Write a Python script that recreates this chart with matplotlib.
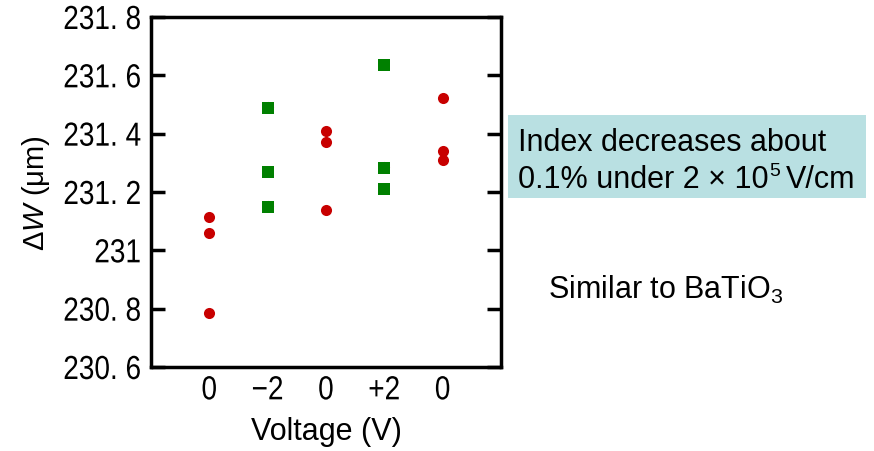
import matplotlib
matplotlib.use("Agg")
import matplotlib.pyplot as plt
from matplotlib.patheffects import AbstractPathEffect
from matplotlib.transforms import Affine2D

plt.rcParams['mathtext.fontset'] = 'custom'
plt.rcParams['mathtext.rm'] = 'Liberation Sans'
plt.rcParams['mathtext.it'] = 'Liberation Sans:italic'

categories = ["0", "\u22122", "0", "+2", "0"]
yticks = [230.6, 230.8, 231.0, 231.2, 231.4, 231.6, 231.8]
ytick_labels = ["230. 6", "230. 8", "231", "231. 2", "231. 4", "231. 6", "231. 8"]

red_x = [1, 1, 1, 2, 2, 3, 3, 3, 4, 5, 5, 5]
red_y = [231.114, 231.06, 230.784, 231.492, 231.152, 231.408, 231.37, 231.138, 231.285, 231.523, 231.341, 231.309]
green_x = [2, 2, 2, 4, 4, 4]
green_y = [231.488, 231.268, 231.148, 231.634, 231.281, 231.209]


class HScale(AbstractPathEffect):
    """Horizontally condense text about its right edge or centre."""
    def __init__(self, sx, anchor='right'):
        super().__init__()
        self.sx = sx
        self.anchor = anchor

    def draw_path(self, renderer, gc, tpath, affine, rgbFace=None):
        v = affine.transform(tpath.vertices)
        if len(v):
            x0 = v[:, 0].max() if self.anchor == 'right' else 0.5 * (v[:, 0].min() + v[:, 0].max())
        else:
            x0 = 0
        new = affine + Affine2D().translate(-x0, 0).scale(self.sx, 1).translate(x0, 0)
        renderer.draw_path(gc, tpath, new, rgbFace)


fig = plt.figure(figsize=(8.74, 4.52), dpi=100)
ax = fig.add_axes([151/874, 1-368/452, 350/874, 350/452])

ax.scatter(red_x, red_y, s=8**2, marker='o', color='#c80000', linewidths=0, zorder=3)
ax.scatter(green_x, green_y, s=8**2, marker='s', color='#008000', linewidths=0, zorder=4)

ax.set_xlim(0, 6)
ax.set_ylim(230.6, 231.8)
ax.set_xticks(range(1, 6))
ax.set_xticklabels(categories, fontfamily="Liberation Sans", fontsize=24)
ax.set_yticks(yticks)
ax.set_yticklabels(ytick_labels, fontfamily="Liberation Sans", fontsize=24)
for t in ax.get_yticklabels():
    t.set_path_effects([HScale(0.84, 'right')])
for t in ax.get_xticklabels():
    t.set_path_effects([HScale(0.84, 'center')])
ax.tick_params(axis='y', direction='in', length=10, width=2.5, left=True, right=True, pad=7)
ax.tick_params(axis='x', length=0, pad=6)
for s in ax.spines.values():
    s.set_linewidth(2.5)

ax.set_xlabel("Voltage (V)", fontfamily="Liberation Sans", fontsize=22)
ax.xaxis.set_label_coords(0.5, (368-432)/350)
ax.xaxis.label.set_va('center')
ax.set_ylabel(r"$\mathit{\Delta W}$ ($\mathrm{\mu}$m)", fontfamily="Liberation Sans", fontsize=21)
ax.yaxis.set_label_coords((36-151)/350, 0.5)
ax.yaxis.label.set_va('center')

fig.patches.append(matplotlib.patches.Rectangle((508/874, 1-199/452), 358/874, 83/452,
                   transform=fig.transFigure, facecolor='#b9e0e2', edgecolor='none'))
fig.text(518/874, 1-143/452, "Index decreases about", fontfamily="Liberation Sans", fontsize=22, va='center', ha='left')

# second line: "0.1% under 2 × 10^5 V/cm" built from pieces
renderer = fig.canvas.get_renderer()
W, H = fig.bbox.width, fig.bbox.height
t1 = fig.text(518/874, 1 - 188/452, "0.1% under 2 \u00d7 10", fontfamily="Liberation Sans", fontsize=22,
              va='baseline', ha='left')
bb = t1.get_window_extent(renderer)
t2 = fig.text((bb.x1 + 1) / W, (1 - 188/452) + 12/452, "5", fontfamily="Liberation Sans", fontsize=14,
              va='baseline', ha='left')
bb2 = t2.get_window_extent(renderer)
fig.text((bb2.x1 + 5) / W, 1 - 188/452, "V/cm", fontfamily="Liberation Sans", fontsize=22,
         va='baseline', ha='left')

fig.text(548/874, 1-290/452, r"Similar to BaTiO$_3$", fontfamily="Liberation Sans", fontsize=22, va='center', ha='left')

fig.savefig("out.png", dpi=100)
